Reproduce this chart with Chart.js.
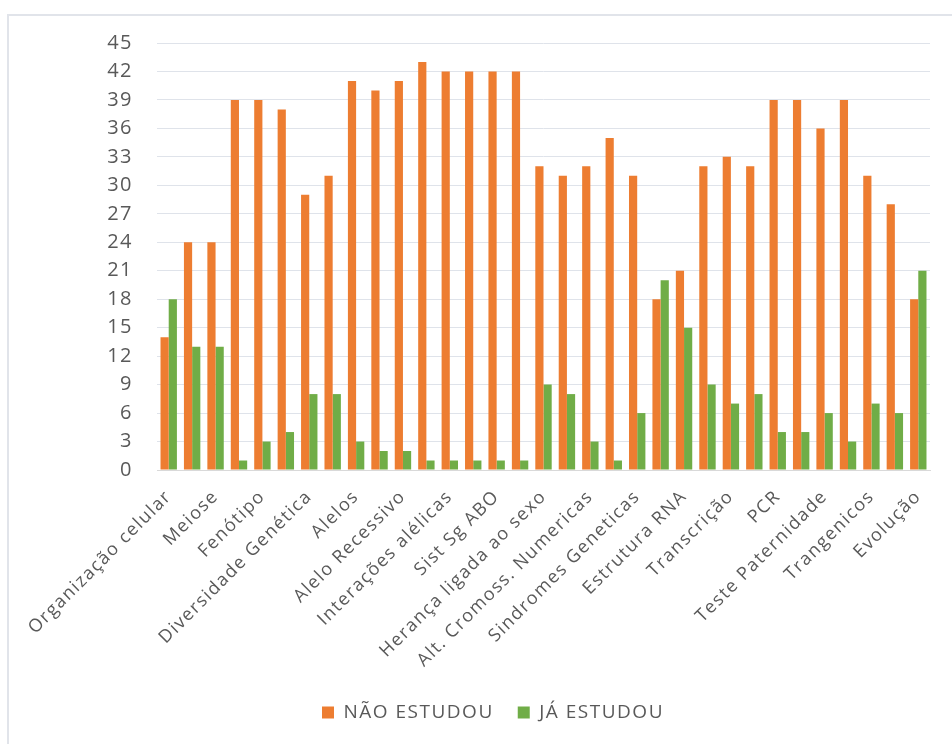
<!DOCTYPE html>
<html>
<head>
<meta charset="utf-8">
<script src="https://cdn.jsdelivr.net/npm/chart.js"></script>
<style>
  html, body { margin: 0; padding: 0; background: #fff; }
  #frame {
    position: absolute; left: 7px; top: 14px;
    width: 950px; height: 740px;
    border-left: 2px solid #e1e4ea; border-top: 2px solid #e1e4ea;
  }
  #wrap { position: absolute; left: 0; top: 0; width: 952px; height: 744px; }
</style>
</head>
<body>
<div id="frame"></div>
<div id="wrap"><canvas id="chart" width="952" height="744"></canvas></div>
<script>
// categories (Excel only shows every other label, hidden ones left blank)
const categories = [
  'Organização celular', '', 'Meiose', '', 'Fenótipo', '', 'Diversidade Genética', '',
  'Alelos', '', 'Alelo Recessivo', '', 'Interações alélicas', '', 'Sist Sg ABO', '',
  'Herança ligada ao sexo', '', 'Alt. Cromoss. Numericas', '', 'Sindromes Geneticas', '',
  'Estrutura RNA', '', 'Transcrição', '', 'PCR', '', 'Teste Paternidade', '',
  'Trangenicos', '', 'Evolução'
];

const naoEstudou = [14, 24, 24, 39, 39, 38, 29, 31, 41, 40, 41, 43, 42, 42, 42, 42,
  32, 31, 32, 35, 31, 18, 21, 32, 33, 32, 39, 39, 36, 39, 31, 28, 18];
const jaEstudou = [18, 13, 13, 1, 3, 4, 8, 8, 3, 2, 2, 1, 1, 1, 1, 1,
  9, 8, 3, 1, 6, 20, 15, 9, 7, 8, 4, 4, 6, 3, 7, 6, 21];

const seriesNames = ['NÃO ESTUDOU', 'JÁ ESTUDOU'];
const yTicks = [0, 3, 6, 9, 12, 15, 18, 21, 24, 27, 30, 33, 36, 39, 42, 45];

const textColor = '#595959';
const fontFamily = "'Open Sans', 'Liberation Sans', sans-serif";

// the Excel text is rendered rather loosely spaced
const spacing = {
  id: 'spacing',
  beforeUpdate(chart) { chart.ctx.letterSpacing = '1.5px'; },
  beforeDraw(chart) { chart.ctx.letterSpacing = '1.5px'; },
  // legend sits a bit right of centre in the original
  afterLayout(chart) {
    chart.legend.left += 28;
    chart.legend.right += 28;
  }
};

new Chart(document.getElementById('chart'), {
  type: 'bar',
  data: {
    labels: categories,
    datasets: [
      { label: seriesNames[0], data: naoEstudou, backgroundColor: '#ED7D31' },
      { label: seriesNames[1], data: jaEstudou, backgroundColor: '#70AD47' }
    ]
  },
  plugins: [spacing],
  options: {
    responsive: false,
    animation: false,
    layout: { padding: { top: 43, right: 22, bottom: 12, left: 0 } },
    datasets: { bar: { categoryPercentage: 0.7, barPercentage: 1.0 } },
    plugins: {
      tooltip: { enabled: false },
      legend: {
        position: 'bottom',
        labels: {
          color: textColor,
          font: { family: fontFamily, size: 19 },
          boxWidth: 12, boxHeight: 12, padding: 24
        }
      }
    },
    scales: {
      x: {
        grid: { display: false, drawTicks: false },
        border: { color: '#d9d9d9' },
        ticks: {
          autoSkip: false, maxRotation: 45, minRotation: 45,
          color: textColor, padding: 16,
          font: { family: fontFamily, size: 18 }
        },
        afterFit: axis => { axis.height = 209; }
      },
      y: {
        min: 0, max: 45,
        afterBuildTicks: axis => { axis.ticks = yTicks.map(v => ({ value: v })); },
        grid: { color: '#dfe3ea', drawTicks: false },
        border: { display: false },
        ticks: {
          color: textColor, padding: 24,
          font: { family: fontFamily, size: 20 }
        },
        afterFit: axis => { axis.width = 157; }
      }
    }
  }
});
</script>
</body>
</html>
